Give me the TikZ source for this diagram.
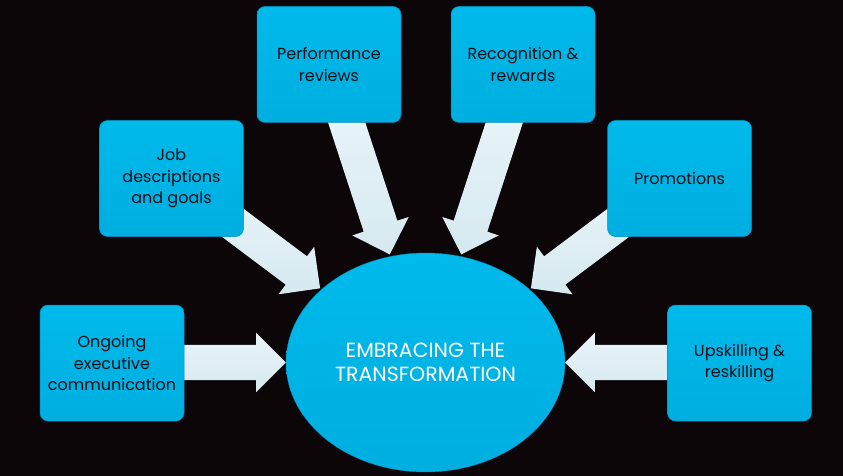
\documentclass[tikz,border=0pt]{standalone}
\usepackage{fontspec}
\setmainfont{Poppins}
\usetikzlibrary{shapes.geometric,shapes.arrows,calc}
\definecolor{bgc}{RGB}{12,6,9}
\definecolor{boxc}{RGB}{0,186,235}
\definecolor{boxd}{RGB}{0,174,224}
\definecolor{boxline}{RGB}{0,140,190}
\definecolor{arrc}{RGB}{232,244,248}
\definecolor{arrd}{RGB}{214,233,240}
\definecolor{txtc}{RGB}{8,16,24}
\tikzset{
  boxnode/.style={rectangle, rounded corners=8pt, draw=boxline, line width=0.5pt,
    top color=boxc, bottom color=boxd, minimum width=144pt, minimum height=116pt,
    inner sep=2pt, align=center, text=txtc,
    font=\fontsize{16}{21.5}\selectfont},
  centernode/.style={ellipse, top color=boxc, bottom color=boxd, draw=boxline, line width=0.3pt,
    minimum width=279pt, minimum height=219pt, inner sep=0pt, align=center, text=white,
    font=\fontsize{20.5}{23.5}\selectfont},
  barrow/.style={single arrow, top color=arrc, bottom color=arrd, draw=none,
    inner xsep=0pt, inner ysep=17.5pt, single arrow head extend=12pt,
    single arrow tip angle=90, shape border uses incircle=false}
}
\newcommand\blockarr[3]{%
  \path let \p1=($(#3)-(#2)$), \n1={atan2(\y1,\x1)}, \n2={veclen(\x1,\y1)} in
    node[barrow, rotate=\n1, minimum height=\n2] (#1) at ($(#2)!0.5!(#3)$) {};%
}
\begin{document}
\begin{tikzpicture}[x=1pt,y=-1pt]
\fill[bgc] (0,0) rectangle (843,476);
\useasboundingbox (0,0) rectangle (843,476);
% arrow ends
\coordinate (t1) at (160,362.5); \coordinate (h1) at (277,362.5);
\coordinate (t6) at (691,362.5); \coordinate (h6) at (574,362.5);
\coordinate (t2) at (201,199);   \coordinate (h2) at (313,283);
\coordinate (t5) at (650,199);   \coordinate (h5) at (538,283);
\coordinate (t3) at (340.4,103.3); \coordinate (h3) at (387,246);
\coordinate (t4) at (510.6,103.3); \coordinate (h4) at (464,246);
\blockarr{a1}{t1}{h1}
\blockarr{a6}{t6}{h6}
\blockarr{a2}{t2}{h2}
\blockarr{a5}{t5}{h5}
\blockarr{a3}{t3}{h3}
\blockarr{a4}{t4}{h4}
% boxes
\node[boxnode] (ongoing) at (112,363) {Ongoing\\executive\\communication};
\node[boxnode] (job) at (171.5,178.5) {Job\\descriptions\\and goals};
\node[boxnode] (perf) at (329,64.5) {Performance\\reviews};
\node[boxnode] (recog) at (523,64.5) {Recognition \&\\rewards};
\node[boxnode] (promo) at (679.5,178.5) {Promotions};
\node[boxnode] (upskill) at (739.5,363) {Upskilling \&\\reskilling};
% center
\node[centernode] (center) at (425.5,362.5) {EMBRACING THE\\TRANSFORMATION};
\end{tikzpicture}
\end{document}
